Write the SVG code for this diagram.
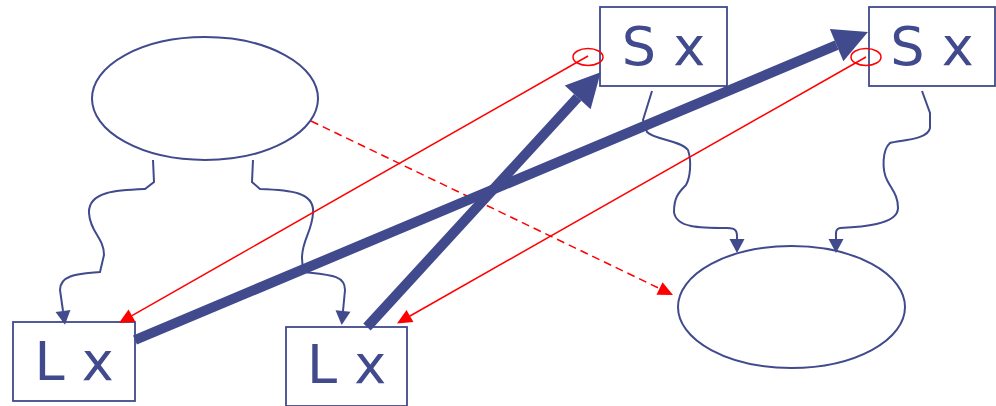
<svg xmlns="http://www.w3.org/2000/svg" width="996" height="406" viewBox="0 0 996 406">
<style>
.box{fill:#fff;stroke:#404A8C;stroke-width:1.8}
.ell{fill:#fff;stroke:#404A8C;stroke-width:2}
.lbl{font-family:"DejaVu Sans",Verdana,sans-serif;font-size:54px;fill:#404A8C;text-anchor:middle}
.wavy{fill:none;stroke:#404A8C;stroke-width:2;marker-end:url(#bsmall)}
.thick{fill:none;stroke:#404A8C;stroke-width:10;marker-end:url(#bbig)}
.red{fill:none;stroke:#FF0000;stroke-width:1.5;marker-end:url(#rhead)}
.dash{stroke-dasharray:8 5}
.ring{fill:none;stroke:#FF0000;stroke-width:1.5}
</style>
<defs>
<marker id="bsmall" markerUnits="userSpaceOnUse" viewBox="0 -7.5 14 15" refX="0" refY="0" markerWidth="14" markerHeight="15" orient="auto" overflow="visible"><path d="M0,-7.5 L14,0 L0,7.5 z" fill="#404A8C"/></marker>
<marker id="bbig" markerUnits="userSpaceOnUse" viewBox="0 -17.5 34 35" refX="0" refY="0" markerWidth="34" markerHeight="35" orient="auto" overflow="visible"><path d="M0,-17.5 L34,0 L0,17.5 z" fill="#404A8C"/></marker>
<marker id="rhead" markerUnits="userSpaceOnUse" viewBox="0 -7 15 14" refX="0" refY="0" markerWidth="15" markerHeight="14" orient="auto" overflow="visible"><path d="M0,-7 L15,0 L0,7 z" fill="#FF0000"/></marker>
</defs>
<g id="ellipse-top"><ellipse class="ell" cx="205" cy="98.5" rx="113" ry="61.5"/></g>
<g id="ellipse-bottom"><ellipse class="ell" cx="791.5" cy="307" rx="113.5" ry="61"/></g>
<g id="L1"><rect class="box" x="13" y="322" width="122" height="79"/><text class="lbl" x="74" y="380">L x</text></g>
<g id="L2"><rect class="box" x="286" y="327" width="121" height="79"/><text class="lbl" x="346.5" y="383">L x</text></g>
<g id="S1"><rect class="box" x="600" y="7" width="127" height="79"/><text class="lbl" x="663.5" y="65">S x</text></g>
<g id="S2"><rect class="box" x="869" y="7" width="126" height="79"/><text class="lbl" x="932" y="65">S x</text></g>
<g id="connectors">
<path class="wavy" d="M153,160 L154,182 L145,189 C118,190 88,191 89,213 C90,232 104,238 104,255 L100,272 C80,274 60,274 60,290 L63,311"/>
<path class="wavy" d="M253,160 L252,182 L260,189 C290,190 315,192 313,213 C312,232 302,240 302,258 L303,272 C330,275 345,275 345,290 L343,311"/>
<path class="wavy" d="M652,91 L643,120 L647,132 C655,140 680,140 688,150 C692,162 690,178 686,185 C678,193 674,198 674,212 C676,228 700,228 727,228 C738,228 737,233 737,239"/>
<path class="wavy" d="M922,91 L930,113 L930,128 C928,140 900,140 890,143 C882,150 882,170 887,180 C892,190 898,195 898,208 C898,225 860,227 840,228 C835,229 836,233 836,239"/>
<path class="red dash" d="M311,121 L659.5,288.5"/>
<ellipse class="ring" cx="588" cy="57" rx="15" ry="8.5"/>
<ellipse class="ring" cx="866" cy="57" rx="15" ry="8.5"/>
<path class="red" d="M588,56 L132,315.6"/>
<path class="red" d="M866,57 L410,316"/>
<path class="thick" d="M135,340 L836.6,45.2"/>
<path class="thick" d="M367,327 L577.7,97.3"/>
</g>
</svg>
